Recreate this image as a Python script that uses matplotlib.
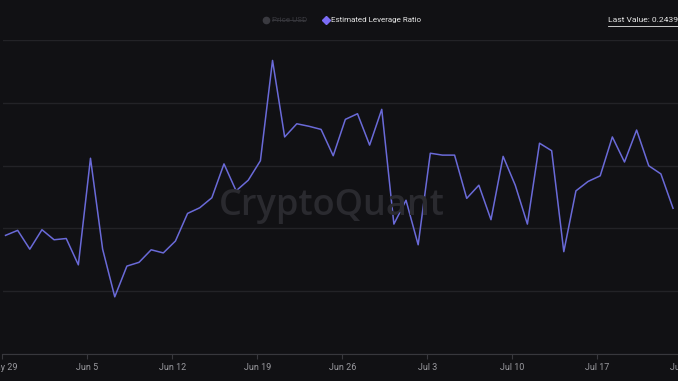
import numpy as np
import pandas as pd
import matplotlib
matplotlib.use("Agg")
import matplotlib.pyplot as plt
import matplotlib.dates as mdates
from matplotlib.lines import Line2D

# daily Estimated Leverage Ratio (May 29 - Jul 23)
dates = pd.date_range("2023-05-29 06:00", periods=56, freq="D")
leverage = [
    0.2396, 0.2404, 0.2374, 0.2405, 0.2389, 0.2391, 0.2349, 0.2519,
    0.2374, 0.2298, 0.2347, 0.2353, 0.2373, 0.2368, 0.2387, 0.2431,
    0.2440, 0.2456, 0.2510, 0.2467, 0.2484, 0.2515, 0.2675, 0.2553,
    0.2574, 0.2570, 0.2565, 0.2523, 0.2581, 0.2590, 0.2540, 0.2597,
    0.2414, 0.2452, 0.2381, 0.2527, 0.2524, 0.2524, 0.2455, 0.2476,
    0.2421, 0.2522, 0.2476, 0.2414, 0.2543, 0.2531, 0.2370, 0.2467,
    0.2482, 0.2491, 0.2553, 0.2513, 0.2564, 0.2507, 0.2494, 0.24392,
]
tick_dates = pd.date_range("2023-05-29", "2023-07-24", freq="7D")
tick_labels = ["May 29", "Jun 5", "Jun 12", "Jun 19", "Jun 26", "Jul 3", "Jul 10", "Jul 17", "Jul 24"]
last_value = "0.24392"

bg = "#111114"
line_c = "#6a6ad8"
grid_c = "#232327"
axis_c = "#38383d"
txt_c = "#9a9a9f"
font = ["Liberation Sans Narrow", "Roboto", "DejaVu Sans"]

fig = plt.figure(figsize=(6.78, 3.81), dpi=100, facecolor=bg)
ax = fig.add_axes([2.5 / 678, 27 / 381, 1 - 2.5 / 678, 314 / 381])
ax.set_facecolor(bg)

ax.plot(dates, leverage, color=line_c, lw=1.1, zorder=3)

ymin, ymax = 0.22068, 0.27076
ax.set_ylim(ymin, ymax)
ax.set_yticks(np.linspace(ymin, ymax, 6))
ax.yaxis.grid(True, color=grid_c, lw=1.0)
ax.tick_params(axis="y", left=False, labelleft=False)

x0 = mdates.date2num(pd.Timestamp("2023-05-29"))
ax.set_xlim(x0, x0 + 55.66)
ax.set_xticks(tick_dates[:-1])
ax.set_xticklabels(tick_labels[:-1], family=font, fontsize=6.5, color=txt_c)
ax.tick_params(axis="x", length=3.5, width=0.8, color=axis_c, pad=3)
# last label sits past the right edge, only "Ju" is visible
ax.text(tick_dates[-1], -0.0275, tick_labels[-1], transform=ax.get_xaxis_transform(),
        ha="center", va="top", family=font, fontsize=6.5, color=txt_c, clip_on=False)
for s in ["top", "left", "right"]:
    ax.spines[s].set_visible(False)
ax.spines["bottom"].set_color(axis_c)
ax.spines["bottom"].set_linewidth(0.8)

# watermark
fig.text(332 / 678, 1 - 206 / 381, "CryptoQuant", ha="center", va="center",
         fontsize=26, color="#2a2a2f", family=["Open Sans", "DejaVu Sans"],
         weight="semibold", zorder=0)

# legend
ly = 1 - 20 / 381
fig.add_artist(Line2D([266 / 678], [ly], marker="o", ms=4.5, color="#3a3a40", transform=fig.transFigure))
fig.text(272 / 678, ly, "Price USD", ha="left", va="center", fontsize=5.8, color="#3a3a40", family=font)
fig.add_artist(Line2D([271.5 / 678, 305 / 678], [ly, ly], lw=0.6, color="#3a3a40", transform=fig.transFigure))
fig.add_artist(Line2D([326 / 678], [ly], marker="D", ms=4, color="#7b6cf6", transform=fig.transFigure))
fig.text(331 / 678, ly, "Estimated Leverage Ratio", ha="left", va="center", fontsize=5.8,
         color="#e6e6e6", family=font)

fig.text(608 / 678, ly, "Last Value: " + last_value, ha="left", va="center", fontsize=6.1,
         color="#e6e6e6", family=font)
fig.add_artist(Line2D([608 / 678, 1.0], [1 - 26 / 381] * 2, lw=0.6, color="#e6e6e6", transform=fig.transFigure))

fig.savefig("out.png", dpi=100, facecolor=bg)
